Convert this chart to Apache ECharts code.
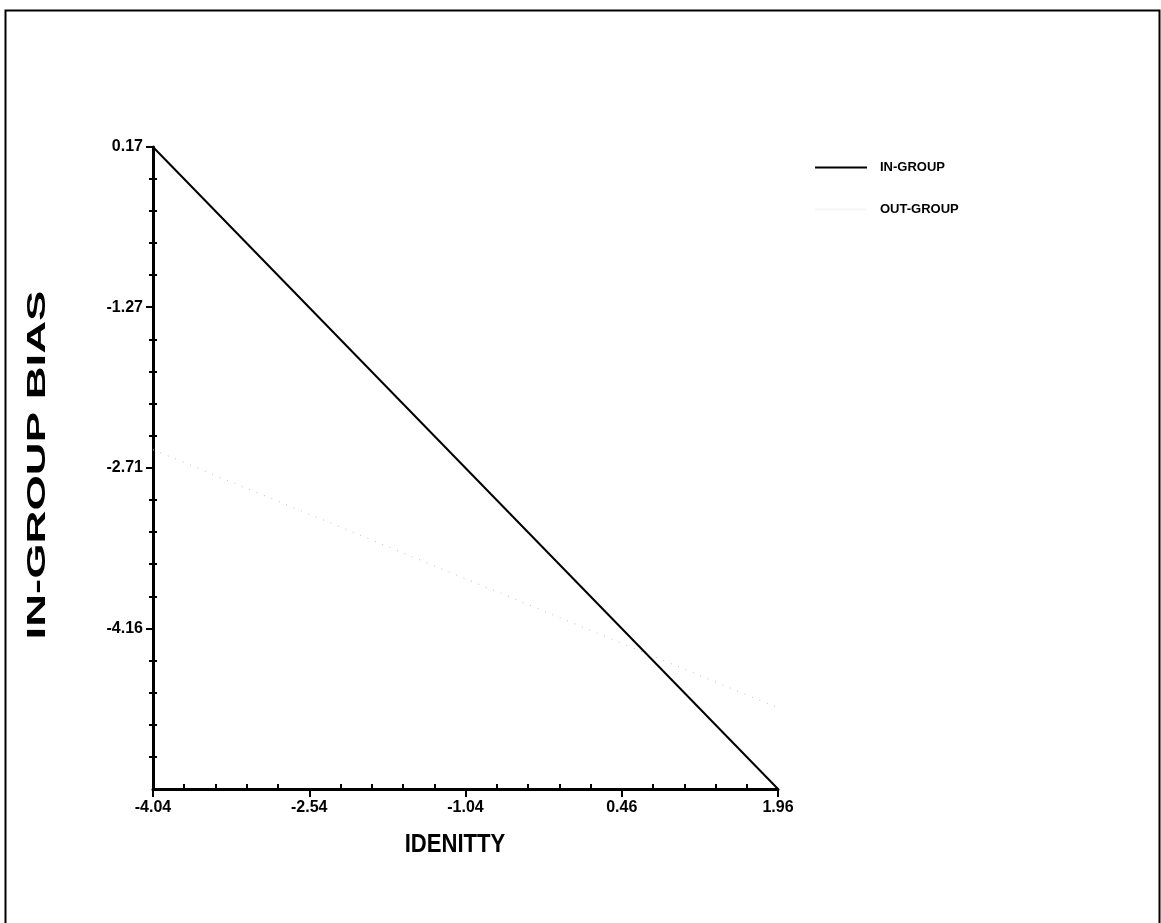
<!DOCTYPE html>
<html>
<head>
<meta charset="utf-8">
<script src="https://cdn.jsdelivr.net/npm/echarts@6/dist/echarts.min.js"></script>
<style>
  html, body { margin: 0; padding: 0; background: #fff; }
  #chart { width: 1161px; height: 923px; }
</style>
</head>
<body>
<div id="chart"></div>
<script>
// axis ranges and tick labels as printed on the plot
const xMin = -4.04, xMax = 1.96;
const yMin = -5.6, yMax = 0.17;
const xTicks = [-4.04, -2.54, -1.04, 0.46, 1.96];
const yTicks = [0.17, -1.27, -2.71, -4.16];

// the two regression lines (end points)
const lineX = [-4.04, 1.96];
const inGroup = [0.17, -5.6];
const outGroup = [-2.55, -4.87];

const FONT = '"Liberation Sans", Arial, sans-serif';

// minor ticks: 5 subdivisions between major ticks
function minors(ticks, lo) {
  const t = ticks.slice().sort((a, b) => a - b);
  if (lo !== undefined && lo < t[0]) t.unshift(lo);
  const out = [];
  for (let i = 0; i < t.length - 1; i++) {
    for (let k = 1; k < 5; k++) out.push(t[i] + (t[i + 1] - t[i]) * k / 5);
  }
  return out;
}
const xMinor = minors(xTicks);
const yMinor = minors(yTicks, yMin);

const chart = echarts.init(document.getElementById('chart'));

const gridBox = { left: 153, right: 383, top: 147, bottom: 134 };
const hidden = { show: false };
const noLine = { show: false, onZero: false };
const tickStyle = { color: '#000', width: 2 };

chart.setOption({
  animation: false,
  backgroundColor: '#fff',
  // three identical grids so the minor tick axes sit on the same lines
  grid: [gridBox, gridBox, gridBox],
  legend: {
    left: 810, top: 156, orient: 'vertical',
    itemWidth: 52, itemHeight: 2, itemGap: 29,
    data: [
      { name: 'IN-GROUP', icon: 'rect' },
      { name: 'OUT-GROUP', icon: 'rect', itemStyle: { opacity: 0.15 } }
    ],
    textStyle: { fontFamily: FONT, fontWeight: 'bold', fontSize: 13, color: '#000',
      padding: [0, 0, 0, 8] }
  },
  xAxis: [
    {
      type: 'value', min: xMin, max: xMax, gridIndex: 0,
      axisLine: { show: true, onZero: false, lineStyle: { color: '#000', width: 3 } },
      axisTick: { show: true, length: 8, customValues: xTicks, lineStyle: tickStyle },
      axisLabel: { customValues: xTicks, margin: 11, color: '#000',
        fontFamily: FONT, fontWeight: 'bold', fontSize: 16,
        formatter: v => v.toFixed(2) },
      splitLine: hidden
    },
    {
      type: 'value', min: xMin, max: xMax, gridIndex: 1, position: 'bottom',
      axisLine: noLine, splitLine: hidden, axisLabel: hidden,
      axisTick: { show: true, inside: true, length: 5, customValues: xMinor, lineStyle: tickStyle }
    },
    {
      type: 'value', min: xMin, max: xMax, gridIndex: 2, position: 'bottom',
      axisLine: noLine, splitLine: hidden, axisLabel: hidden, axisTick: hidden
    }
  ],
  yAxis: [
    {
      type: 'value', min: yMin, max: yMax, gridIndex: 0,
      axisLine: { show: true, onZero: false, lineStyle: { color: '#000', width: 3 } },
      axisTick: { show: true, length: 7, customValues: yTicks, lineStyle: tickStyle },
      axisLabel: { customValues: yTicks, margin: 10, color: '#000',
        fontFamily: FONT, fontWeight: 'bold', fontSize: 16,
        formatter: v => v.toFixed(2) },
      splitLine: hidden
    },
    {
      type: 'value', min: yMin, max: yMax, gridIndex: 1, position: 'left',
      axisLine: noLine, splitLine: hidden, axisLabel: hidden,
      axisTick: { show: true, inside: true, length: 4, customValues: yMinor, lineStyle: tickStyle }
    },
    {
      type: 'value', min: yMin, max: yMax, gridIndex: 2, position: 'left',
      axisLine: noLine, splitLine: hidden, axisLabel: hidden,
      axisTick: { show: true, inside: false, length: 4, customValues: yMinor, lineStyle: tickStyle }
    }
  ],
  series: [
    {
      name: 'IN-GROUP', type: 'line', symbol: 'none',
      data: lineX.map((x, i) => [x, inGroup[i]]),
      lineStyle: { color: '#000', width: 2 }, itemStyle: { color: '#000' }
    },
    {
      name: 'OUT-GROUP', type: 'line', symbol: 'none',
      data: lineX.map((x, i) => [x, outGroup[i]]),
      lineStyle: { color: '#bdbdbd', width: 1, type: [1, 7] }, itemStyle: { color: '#bdbdbd' }
    }
  ],
  graphic: [
    { type: 'rect', left: 3, top: 8, shape: { width: 1154, height: 930 },
      style: { fill: 'none', stroke: '#000', lineWidth: 2 }, silent: true },
    { type: 'text', x: 38, y: 465, rotation: Math.PI / 2, scaleX: 1.82,
      style: { text: 'IN-GROUP BIAS', font: 'bold 25px ' + FONT,
        fill: '#000', align: 'center', verticalAlign: 'middle' } },
    { type: 'text', x: 455, y: 845, scaleX: 0.85,
      style: { text: 'IDENITTY', font: 'bold 26px ' + FONT,
        fill: '#000', align: 'center', verticalAlign: 'middle' } }
  ]
});
</script>
</body>
</html>
